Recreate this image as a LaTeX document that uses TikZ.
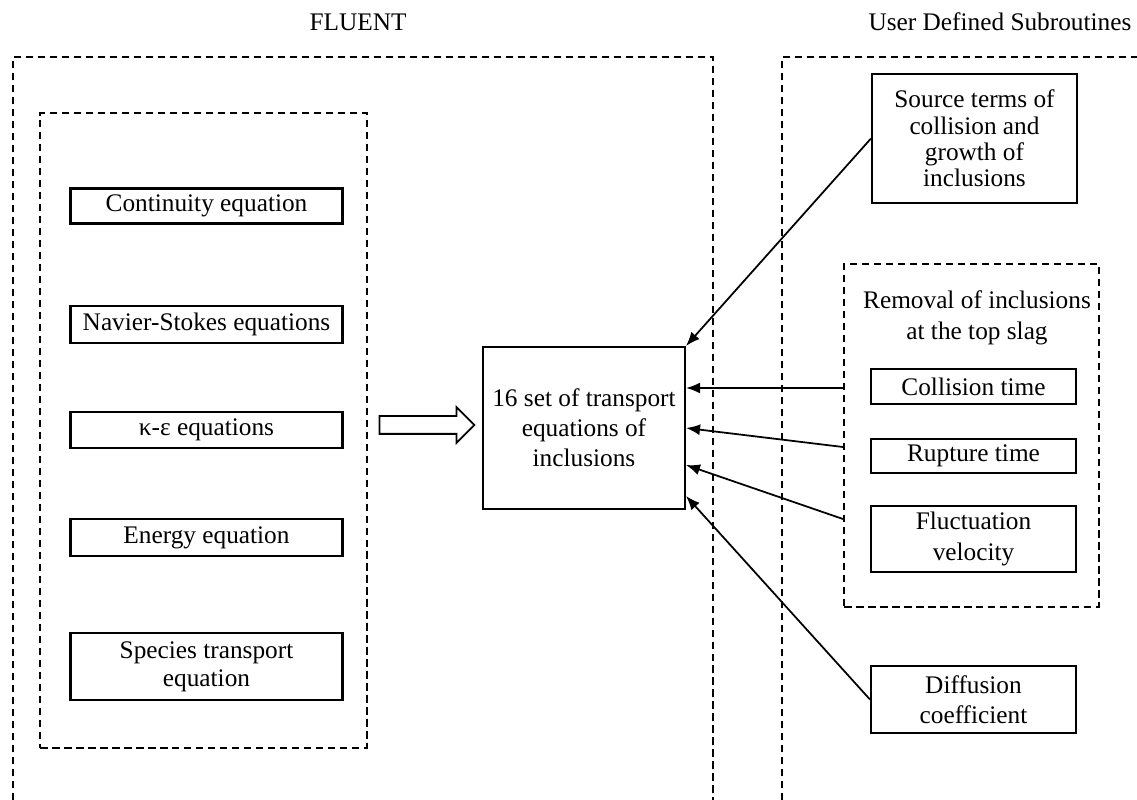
\documentclass[tikz,border=0pt]{standalone}
\usepackage{fontspec}
\setmainfont{Liberation Serif}
\usetikzlibrary{arrows.meta,calc,shapes.arrows}

\tikzset{
  eqbox/.style={draw, line width=1.2pt, inner sep=0pt, align=center, font=\fontsize{14.4}{17}\selectfont},
  dashbox/.style={draw, line width=1.2pt, dash pattern=on 0.15cm off 0.09cm},
  feed/.style={line width=1pt, -{Latex[length=0.28cm,width=0.22cm]}},
  lbl/.style={font=\fontsize{14.4}{17.5}\selectfont, align=center}
}

\begin{document}
\begin{tikzpicture}[x=0.02cm, y=-0.02cm]
  \useasboundingbox (0,0) rectangle (1137,800);
  % headings
  \node[lbl] (fluent) at (358,22) {FLUENT}; \node[lbl] (udf) at (1000,22) {User Defined Subroutines};
  % open frames
  \draw[dashbox] (13,800) -- (13,57) -- (713,57) -- (713,800);
  \draw[dashbox] (782,800) -- (782,57) -- (1137,57);
  % FLUENT equations
  \node[dashbox, minimum width=6.54cm, minimum height=12.7cm] (solver) at (203.5,430.5) {};
  \node[eqbox, minimum width=5.44cm, minimum height=0.7cm] (cont) at (206.5,206) {Continuity equation};
  \node[eqbox, minimum width=5.44cm, minimum height=0.74cm] (ns) at (206.5,324.5) {Navier-Stokes equations};
  \node[eqbox, minimum width=5.44cm, minimum height=0.72cm] (ke) at (206.5,430) {κ-ε equations};
  \node[eqbox, minimum width=5.44cm, minimum height=0.74cm] (energy) at (206.5,537.5) {Energy equation};
  \node[eqbox, minimum width=5.44cm, minimum height=1.34cm, font=\fontsize{14.4}{16}\selectfont] (species) at (206.5,666.5) {Species transport\\equation};
  \node[single arrow, draw, line width=1pt, inner xsep=0pt, inner ysep=0.16cm, minimum height=1.9cm, single arrow head extend=0.18cm] (pass) at (422.5,425) {};
  \node[eqbox, minimum width=4.04cm, minimum height=3.24cm] (trans) at (584,428) {16 set of transport\\equations of\\inclusions};
  % subroutines
  \node[eqbox, minimum width=4.1cm, minimum height=2.58cm, font=\fontsize{14.4}{15}\selectfont] (src) at (974.5,138.5) {Source terms of\\collision and\\growth of\\inclusions};
  \node[dashbox, minimum width=5.1cm, minimum height=6.86cm] (removal) at (971.5,435.5) {};
  \node[lbl] (remtxt) at (977,317.5) {Removal of inclusions\\at the top slag};
  \node[eqbox, minimum width=4.1cm, minimum height=0.7cm] (coll) at (973.5,386.5) {Collision time};
  \node[eqbox, minimum width=4.1cm, minimum height=0.68cm] (rupt) at (973.5,456) {Rupture time};
  \node[eqbox, minimum width=4.1cm, minimum height=1.32cm, font=\fontsize{14.4}{18}\selectfont] (fluct) at (973.5,539) {Fluctuation\\velocity};
  \node[eqbox, minimum width=4.1cm, minimum height=1.34cm] (diff) at (973.5,699.5) {Diffusion\\coefficient};
  % feeds into the transport equations
  \draw[feed] (src.west) -- (trans.north east);
  \draw[feed] ($(removal.west)+(0,-47.5)$) -- ($(trans.east)+(0,-40)$);
  \draw[feed] ($(removal.west)+(0,11.5)$) -- (trans.east);
  \draw[feed] ($(removal.west)+(0,83.5)$) -- ($(trans.east)+(0,37)$);
  \draw[feed] (diff.west) -- ($(trans.east)+(0,68)$);
\end{tikzpicture}
\end{document}
